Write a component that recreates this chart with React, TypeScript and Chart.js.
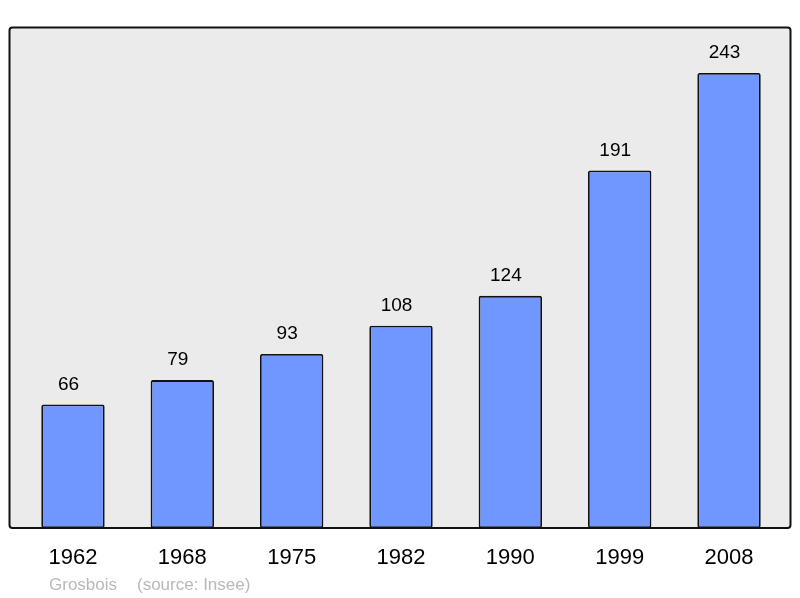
import React, { useEffect, useRef } from "react";
import { Chart, registerables } from "chart.js";

Chart.register(...registerables);

const years = ["1962", "1968", "1975", "1982", "1990", "1999", "2008"];
const population = [66, 79, 93, 108, 124, 191, 243];
const place = "Grosbois";
const source = "(source: Insee)";

const BOX = { left: 9.5, top: 27.5, right: 790.5, bottom: 528 };

const boxPlugin = {
  id: "boxPlugin",
  beforeDatasetsDraw(chart: any) {
    const ctx = chart.ctx;
    ctx.save();
    ctx.fillStyle = "#ebebeb";
    ctx.beginPath();
    ctx.roundRect(BOX.left, BOX.top, BOX.right - BOX.left, BOX.bottom - BOX.top, 3);
    ctx.fill();
    ctx.restore();
  },
  afterDatasetsDraw(chart: any) {
    const ctx = chart.ctx;
    ctx.save();
    ctx.strokeStyle = "#111";
    ctx.lineWidth = 2;
    ctx.beginPath();
    ctx.roundRect(BOX.left, BOX.top, BOX.right - BOX.left, BOX.bottom - BOX.top, 3);
    ctx.stroke();
    // value labels
    const meta = chart.getDatasetMeta(0);
    ctx.fillStyle = "#000";
    ctx.font = "19px 'Liberation Sans', Arial, sans-serif";
    ctx.textAlign = "center";
    ctx.textBaseline = "middle";
    meta.data.forEach((bar: any, i: number) => {
      ctx.fillText(String(population[i]), bar.x - 4.5, bar.y - 20);
    });
    // footer
    ctx.fillStyle = "#b8b8b8";
    ctx.font = "17px 'Liberation Sans', Arial, sans-serif";
    ctx.textAlign = "left";
    ctx.textBaseline = "alphabetic";
    ctx.fillText(place, 49, 590);
    ctx.fillText(source, 137, 590);
    ctx.restore();
  },
};

export default function App() {
  const ref = useRef<HTMLCanvasElement>(null);
  useEffect(() => {
    if (!ref.current) return;
    const chart = new Chart(ref.current, {
      type: "bar",
      data: {
        labels: years,
        datasets: [
          {
            data: population,
            backgroundColor: "#7096ff",
            borderColor: "#111",
            borderWidth: 1.8,
            borderRadius: 2,
            borderSkipped: false,
            barPercentage: 0.58,
            categoryPercentage: 1,
          },
        ],
      },
      options: {
        responsive: false,
        animation: false,
        events: [],
        layout: { padding: { left: 18.3, right: 16.3, top: 27, bottom: 0 } },
        plugins: { legend: { display: false }, tooltip: { enabled: false }, title: { display: false } },
        scales: {
          x: {
            grid: { display: false, drawTicks: false },
            border: { display: false },
            ticks: {
              color: "#000",
              padding: 17,
              font: { family: "'Liberation Sans', Arial, sans-serif", size: 22 },
              maxRotation: 0,
            },
            afterFit(scale: any) {
              scale.height = 70;
            },
          },
          y: { display: false, min: 0, max: 267.6 },
        },
      },
      plugins: [boxPlugin],
    });
    return () => chart.destroy();
  }, []);
  return (
    <div style={{ position: "absolute", left: 0, top: 0, width: 800, height: 598, background: "#fff" }}>
      <canvas ref={ref} width={800} height={598} />
    </div>
  );
}
